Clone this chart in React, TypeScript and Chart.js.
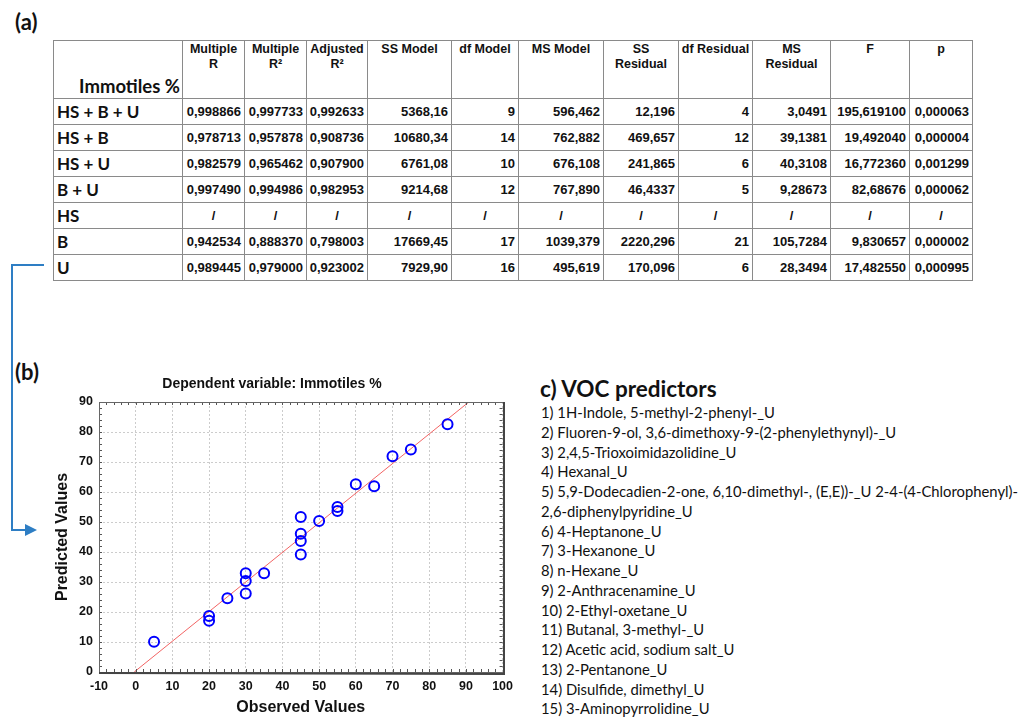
import React, { useEffect, useRef } from "react";
import { Chart, registerables } from "chart.js";

Chart.register(...registerables);

// ---------- DATA ----------
const tableHeaders: string[][] = [
  ["Multiple", "R"],
  ["Multiple", "R²"],
  ["Adjusted", "R²"],
  ["SS Model"],
  ["df Model"],
  ["MS Model"],
  ["SS", "Residual"],
  ["df Residual"],
  ["MS", "Residual"],
  ["F"],
  ["p"],
];
const rowLabels = ["HS + B + U", "HS + B", "HS + U", "B + U", "HS", "B", "U"];
const multipleR = ["0,998866", "0,978713", "0,982579", "0,997490", "/", "0,942534", "0,989445"];
const multipleR2 = ["0,997733", "0,957878", "0,965462", "0,994986", "/", "0,888370", "0,979000"];
const adjustedR2 = ["0,992633", "0,908736", "0,907900", "0,982953", "/", "0,798003", "0,923002"];
const ssModel = ["5368,16", "10680,34", "6761,08", "9214,68", "/", "17669,45", "7929,90"];
const dfModel = ["9", "14", "10", "12", "/", "17", "16"];
const msModel = ["596,462", "762,882", "676,108", "767,890", "/", "1039,379", "495,619"];
const ssResidual = ["12,196", "469,657", "241,865", "46,4337", "/", "2220,296", "170,096"];
const dfResidual = ["4", "12", "6", "5", "/", "21", "6"];
const msResidual = ["3,0491", "39,1381", "40,3108", "9,28673", "/", "105,7284", "28,3494"];
const fValues = ["195,619100", "19,492040", "16,772360", "82,68676", "/", "9,830657", "17,482550"];
const pValues = ["0,000063", "0,000004", "0,001299", "0,000062", "/", "0,000002", "0,000995"];

const observed = [5, 20, 20, 25, 30, 30, 30, 35, 45, 45, 45, 45, 50, 55, 55, 60, 65, 70, 75, 85];
const predicted = [10.1, 18.7, 17.1, 24.6, 32.9, 30.3, 26.2, 32.9, 51.7, 46.1, 43.7, 39.2, 50.3, 55.0, 53.7, 62.6, 61.9, 71.9, 74.2, 82.6];
const fitX = [-0.4, 90.8];
const fitY = [0, 90];

const xMin = -10, xMax = 100, yMin = 0, yMax = 90, majorStep = 10, minorStep = 2;

const vocPredictors = [
  "1) 1H-Indole, 5-methyl-2-phenyl-_U",
  "2) Fluoren-9-ol, 3,6-dimethoxy-9-(2-phenylethynyl)-_U",
  "3) 2,4,5-Trioxoimidazolidine_U",
  "4) Hexanal_U",
  "5) 5,9-Dodecadien-2-one, 6,10-dimethyl-, (E,E))-_U 2-4-(4-Chlorophenyl)-\n2,6-diphenylpyridine_U",
  "6) 4-Heptanone_U",
  "7) 3-Hexanone_U",
  "8) n-Hexane_U",
  "9) 2-Anthracenamine_U",
  "10) 2-Ethyl-oxetane_U",
  "11) Butanal, 3-methyl-_U",
  "12) Acetic acid, sodium salt_U",
  "13) 2-Pentanone_U",
  "14) Disulfide, dimethyl_U",
  "15) 3-Aminopyrrolidine_U",
];

const colWidths = [129, 62, 62, 61, 84, 67, 85, 75, 74, 78, 79, 63];

const framePlugin = {
  id: "frame",
  afterDraw(chart: any) {
    const { ctx, chartArea } = chart;
    const { left, right, top, bottom } = chartArea;
    const xs = chart.scales.x;
    const ys = chart.scales.y;
    ctx.save();
    ctx.strokeStyle = "#555";
    ctx.lineWidth = 1;
    ctx.beginPath();
    for (let v = xMin; v <= xMax; v += minorStep) {
      const px = Math.round(xs.getPixelForValue(v)) + 0.5;
      ctx.moveTo(px, bottom);
      ctx.lineTo(px, bottom - 3);
      ctx.moveTo(px, top);
      ctx.lineTo(px, top + 3);
    }
    for (let v = yMin; v <= yMax; v += minorStep) {
      const py = Math.round(ys.getPixelForValue(v)) + 0.5;
      ctx.moveTo(left, py);
      ctx.lineTo(left + 3, py);
      ctx.moveTo(right, py);
      ctx.lineTo(right - 3, py);
    }
    ctx.stroke();
    ctx.strokeStyle = "#666";
    ctx.lineWidth = 1;
    ctx.strokeRect(Math.round(left) + 0.5, Math.round(top) + 0.5, Math.round(right - left), Math.round(bottom - top));
    ctx.strokeStyle = "#444";
    ctx.lineWidth = 2;
    ctx.beginPath();
    ctx.moveTo(Math.round(right) + 1, Math.round(top));
    ctx.lineTo(Math.round(right) + 1, Math.round(bottom) + 2);
    ctx.lineTo(Math.round(left), Math.round(bottom) + 1);
    ctx.stroke();
    ctx.restore();
  },
};

function ScatterChart() {
  const ref = useRef<HTMLCanvasElement | null>(null);
  useEffect(() => {
    if (!ref.current) return;
    const font = "'Liberation Sans', Arial, sans-serif";
    const chart = new Chart(ref.current, {
      type: "scatter",
      data: {
        datasets: [
          {
            label: "Observed vs Predicted",
            data: observed.map((x, i) => ({ x, y: predicted[i] })),
            pointStyle: "circle",
            pointRadius: 5,
            pointBorderWidth: 2,
            borderColor: "#0000ff",
            backgroundColor: "rgba(0,0,0,0)",
            pointHoverRadius: 5,
          },
          {
            label: "Fit",
            type: "line",
            data: fitX.map((x, i) => ({ x, y: fitY[i] })),
            showLine: true,
            borderColor: "#f26464",
            borderWidth: 1,
            pointRadius: 0,
          } as any,
        ],
      },
      options: {
        animation: false,
        responsive: false,
        layout: { padding: { left: 0, right: 16, top: 0, bottom: 0 } },
        plugins: {
          legend: { display: false },
          tooltip: { enabled: false },
          title: {
            display: true,
            text: "Dependent variable: Immotiles %",
            color: "#111",
            font: { family: font, size: 14, weight: "bold" },
            padding: { top: 6, bottom: 9.2 },
          },
        },
        scales: {
          x: {
            type: "linear",
            min: xMin,
            max: xMax,
            ticks: { stepSize: majorStep, color: "#111", padding: 7, font: { family: font, size: 12.5, weight: "bold" } },
            grid: { color: "#cccccc", drawTicks: false, lineWidth: 1 },
            border: { display: false, dash: [2, 2] },
            title: {
              display: true,
              text: "Observed Values",
              color: "#111",
              font: { family: font, size: 16, weight: "bold" },
              padding: { top: 0, bottom: 1 },
            },
            afterFit(scale: any) {
              scale.height = 46;
            },
          },
          y: {
            type: "linear",
            min: yMin,
            max: yMax,
            ticks: { stepSize: majorStep, color: "#111", padding: 6, font: { family: font, size: 12.5, weight: "bold" } },
            grid: { color: "#cccccc", drawTicks: false, lineWidth: 1 },
            border: { display: false, dash: [2, 2] },
            title: {
              display: true,
              text: "Predicted Values",
              color: "#111",
              font: { family: font, size: 16, weight: "bold" },
              padding: { top: 13, bottom: 0 },
            },
            afterFit(scale: any) {
              scale.width = 59;
            },
          },
        },
      },
      plugins: [framePlugin],
    });
    return () => chart.destroy();
  }, []);
  return <canvas ref={ref} width={480} height={348} style={{ position: "absolute", left: 40, top: 370, width: 480, height: 348 }} />;
}

export default function App() {
  const numFont = "'Liberation Sans', Arial, sans-serif";
  const labelFont = "Lato, 'Open Sans', sans-serif";
  const cols = [multipleR, multipleR2, adjustedR2, ssModel, dfModel, msModel, ssResidual, dfResidual, msResidual, fValues, pValues];
  const border = "1px solid #8a8a8a";
  const darkCol = 7; // df Residual column has dark left border

  return (
    <div style={{ position: "absolute", left: 0, top: 0, width: 1029, height: 718, background: "#fff", overflow: "hidden", color: "#111" }}>
      <div style={{ position: "absolute", left: 15, top: 8, fontFamily: labelFont, fontWeight: 700, fontSize: 22, lineHeight: "28px" }}>(a)</div>
      <table
        style={{
          position: "absolute",
          left: 53,
          top: 40,
          borderCollapse: "collapse",
          tableLayout: "fixed",
          width: 920,
          fontFamily: numFont,
          fontWeight: 700,
          fontSize: 13,
        }}
      >
        <colgroup>
          {colWidths.map((w, i) => (
            <col key={i} style={{ width: w }} />
          ))}
        </colgroup>
        <tbody>
          <tr style={{ height: 58 }}>
            <td
              style={{
                border,
                verticalAlign: "bottom",
                textAlign: "right",
                padding: "0 2px 1px 0",
                fontFamily: labelFont,
                fontSize: 18.5,
                lineHeight: "22px",
              }}
            >
              Immotiles %
            </td>
            {tableHeaders.map((h, i) => (
              <td
                key={i}
                style={{
                  border,
                  borderLeft: i === darkCol ? "1px solid #000" : border,
                  verticalAlign: "top",
                  textAlign: "center",
                  padding: "1px 0 0 0",
                  fontSize: 12.5,
                  lineHeight: "15px",
                }}
              >
                {h.map((line, j) => (
                  <div key={j}>{line}</div>
                ))}
              </td>
            ))}
          </tr>
          {rowLabels.map((lab, r) => (
            <tr key={r} style={{ height: 26 }}>
              <td style={{ border, padding: "0 0 0 3px", fontFamily: labelFont, fontSize: 17, lineHeight: "24px", textAlign: "left" }}>{lab}</td>
              {cols.map((c, i) => (
                <td
                  key={i}
                  style={{
                    border,
                    borderLeft: i === darkCol ? "1px solid #000" : border,
                    padding: c[r] === "/" ? 0 : "0 3px 0 0",
                    textAlign: c[r] === "/" ? "center" : "right",
                    lineHeight: "24px",
                  }}
                >
                  {c[r]}
                </td>
              ))}
            </tr>
          ))}
        </tbody>
      </table>

      <svg width={60} height={560} style={{ position: "absolute", left: 0, top: 0 }}>
        <path d="M44 265 H12 V530 H27" fill="none" stroke="#2e7ec4" strokeWidth={2} />
        <polygon points="25,524 37,530 25,536" fill="#2e7ec4" />
      </svg>

      <div style={{ position: "absolute", left: 15, top: 358, fontFamily: labelFont, fontWeight: 700, fontSize: 22, lineHeight: "28px" }}>(b)</div>

      <ScatterChart />

      <div style={{ position: "absolute", left: 540, top: 375, fontFamily: labelFont, fontWeight: 700, fontSize: 22.5, lineHeight: "28px" }}>c) VOC predictors</div>
      <div style={{ position: "absolute", left: 541, top: 403, fontFamily: labelFont, fontSize: 14.8, lineHeight: "19.75px", whiteSpace: "pre", color: "#111" }}>
        {vocPredictors.map((t, i) => (
          <div key={i}>{t}</div>
        ))}
      </div>
    </div>
  );
}
